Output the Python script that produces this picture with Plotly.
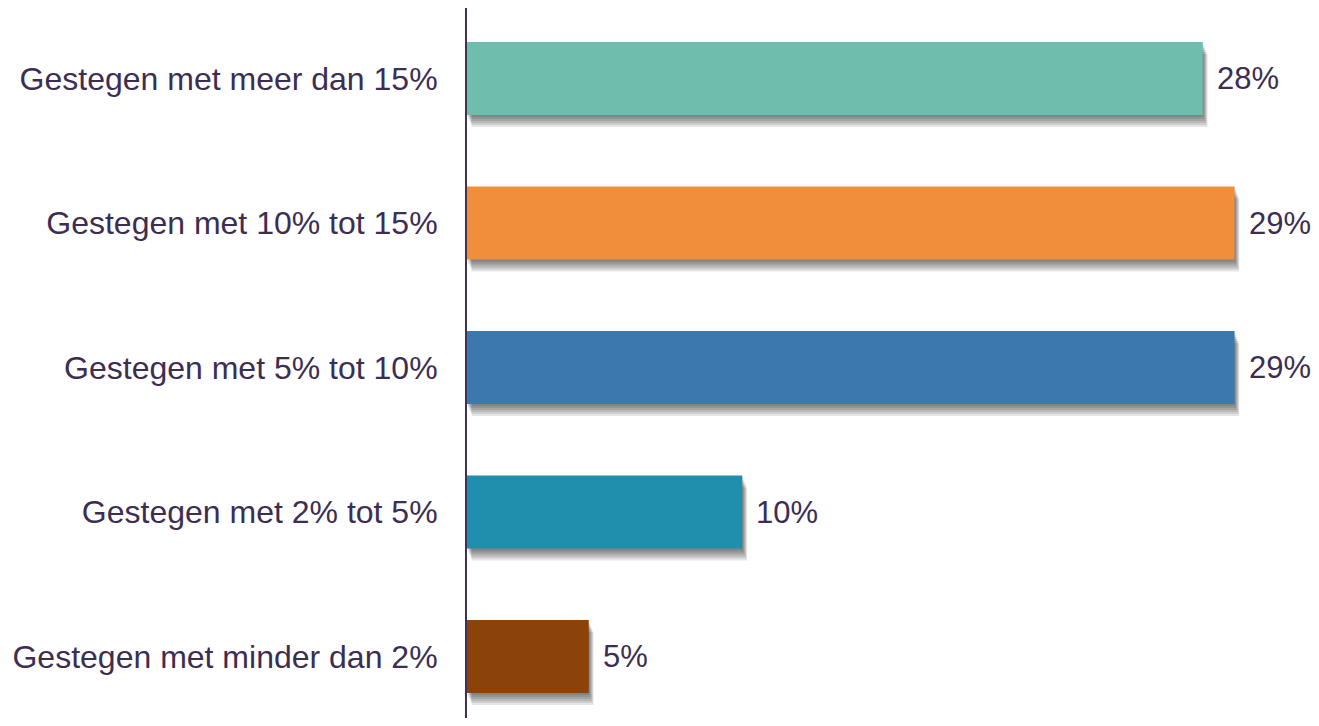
"""Horizontale staafgrafiek: stijging in categorieen."""
import plotly.graph_objects as go

CATEGORIES = [
    "Gestegen met meer dan 15%",
    "Gestegen met 10% tot 15%",
    "Gestegen met 5% tot 10%",
    "Gestegen met 2% tot 5%",
    "Gestegen met minder dan 2%",
]
VALUES = [27.8, 29.0, 29.0, 10.4, 4.6]
BAR_COLORS = ["#6FBDAC", "#F18E3B", "#3C77AE", "#1F8FAD", "#8B4309"]

TEXT_COLOR = "#3B2E52"
FONT = "Liberation Sans, Arial, sans-serif"
BAR_WIDTH = 0.505

fig = go.Figure()

# zachte schaduw onder/rechts van de balken (doorschijnende lagen)
for k in range(1, 7):
    fig.add_trace(go.Bar(
        x=VALUES,
        y=CATEGORIES,
        orientation="h",
        base=0.03 * k,
        width=BAR_WIDTH,
        offset=-BAR_WIDTH / 2 + 0.0138 * k,
        marker=dict(color="rgba(0,0,0,0.1)", line=dict(width=0)),
        hoverinfo="skip",
        showlegend=False,
    ))

fig.add_trace(go.Bar(
    x=VALUES,
    y=CATEGORIES,
    orientation="h",
    width=BAR_WIDTH,
    marker=dict(color=BAR_COLORS, line=dict(width=0)),
    showlegend=False,
))

for cat, val in zip(CATEGORIES, VALUES):
    fig.add_annotation(
        x=val, y=cat, text=f"{round(val)}%",
        xanchor="left", yanchor="middle", xshift=12,
        showarrow=False,
        font=dict(size=31, color=TEXT_COLOR, family=FONT),
    )

fig.update_layout(
    width=1311,
    height=710,
    margin=dict(l=459, r=58, t=0, b=0),
    barmode="overlay",
    plot_bgcolor="white",
    paper_bgcolor="white",
    font=dict(family=FONT, size=32, color=TEXT_COLOR),
    xaxis=dict(
        range=[0, 30],
        visible=False,
        fixedrange=True,
    ),
    yaxis=dict(
        type="category",
        categoryorder="array",
        categoryarray=CATEGORIES,
        range=[4.425, -0.488],
        showline=True,
        linecolor="#3F3157",
        linewidth=2,
        showgrid=False,
        ticks="",
        ticklabelstandoff=21,
        tickfont=dict(size=32, color=TEXT_COLOR, family=FONT),
        fixedrange=True,
    ),
)

fig.write_html("out.html")
